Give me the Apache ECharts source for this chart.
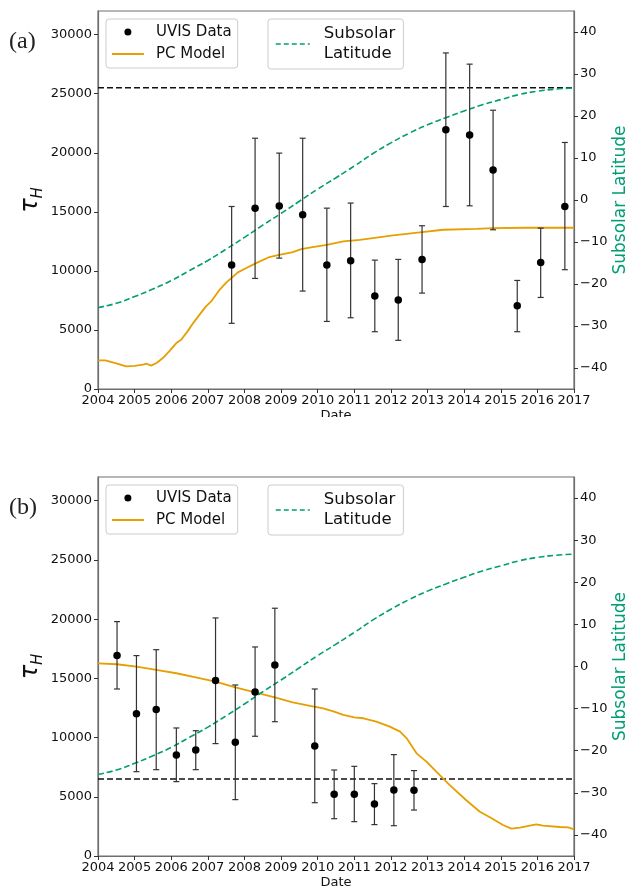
<!DOCTYPE html>
<html>
<head>
<meta charset="utf-8">
<script src="https://cdn.jsdelivr.net/npm/echarts@6/dist/echarts.min.js"></script>
<style>
html,body{margin:0;padding:0;background:#fff;}
#c{width:629px;height:890px;}
</style>
</head>
<body>
<div id="c"></div>
<script>
// ---------- data ----------
const xTicks = [2004,2005,2006,2007,2008,2009,2010,2011,2012,2013,2014,2015,2016,2017];
const tauTicks = [0,5000,10000,15000,20000,25000,30000];
const latTicks = [-40,-30,-20,-10,0,10,20,30,40];

// Panel (a)
const uvisA_date = [2007.65, 2008.29, 2008.95, 2009.59, 2010.25, 2010.90, 2011.56, 2012.20, 2012.85, 2013.50, 2014.15, 2014.79, 2015.45, 2016.09, 2016.75];
const uvisA_tau  = [10500, 15300, 15500, 14750, 10500, 10850, 7870, 7530, 10970, 21950, 21500, 18530, 7050, 10700, 15450];
const uvisA_lo   = [5560, 9360, 11080, 8290, 5720, 6030, 4850, 4120, 8120, 15450, 15510, 13480, 4850, 7750, 10100];
const uvisA_hi   = [15450, 21230, 19970, 21230, 15310, 15740, 10910, 10970, 13820, 28450, 27500, 23600, 9190, 13620, 20870];
const pcA_date = [2004.0, 2004.2, 2004.5, 2004.77, 2005.0, 2005.23, 2005.33, 2005.45, 2005.6, 2005.77, 2005.95, 2006.14, 2006.27, 2006.45, 2006.6, 2006.8, 2006.95, 2007.09, 2007.32, 2007.5, 2007.64, 2007.82, 2008.05, 2008.32, 2008.68, 2008.95, 2009.32, 2009.55, 2009.86, 2010.25, 2010.7, 2011.15, 2012.06, 2012.85, 2013.43, 2014.34, 2014.8, 2015.7, 2017.0];
const pcA_tau  = [2425, 2420, 2170, 1920, 1960, 2060, 2140, 1980, 2200, 2620, 3200, 3890, 4170, 4900, 5580, 6400, 6990, 7410, 8400, 9000, 9390, 9870, 10240, 10660, 11170, 11360, 11590, 11840, 12010, 12210, 12490, 12630, 13000, 13280, 13480, 13560, 13620, 13650, 13650];
const refA = 25500;

// Panel (b)
const uvisB_date = [2004.52, 2005.05, 2005.59, 2006.14, 2006.67, 2007.21, 2007.75, 2008.29, 2008.83, 2009.92, 2010.45, 2011.00, 2011.55, 2012.08, 2012.63];
const uvisB_tau  = [16920, 12020, 12360, 8530, 8950, 14810, 9600, 13850, 16130, 9290, 5210, 5210, 4390, 5570, 5550];
const uvisB_lo   = [14100, 7120, 7290, 6280, 7290, 9490, 4760, 10110, 11340, 4500, 3150, 2900, 2650, 2560, 3880];
const uvisB_hi   = [19790, 16920, 17420, 10810, 10580, 20100, 14440, 17650, 20920, 14100, 7260, 7570, 6110, 8560, 7210];
const pcB_date = [2004.0, 2004.52, 2005.05, 2005.59, 2006.14, 2006.67, 2007.21, 2007.75, 2008.29, 2008.83, 2009.32, 2009.79, 2010.15, 2010.45, 2010.7, 2011.0, 2011.25, 2011.6, 2011.97, 2012.25, 2012.43, 2012.7, 2012.97, 2013.24, 2013.6, 2014.05, 2014.43, 2014.75, 2015.06, 2015.29, 2015.52, 2015.97, 2016.15, 2016.61, 2016.84, 2017.0];
const pcB_tau  = [16270, 16190, 15990, 15710, 15430, 15090, 14720, 14240, 13820, 13400, 12980, 12670, 12470, 12190, 11910, 11710, 11630, 11340, 10920, 10500, 9940, 8670, 7970, 7120, 6000, 4730, 3740, 3180, 2620, 2310, 2390, 2670, 2560, 2450, 2420, 2250];
const refB = 6500;

// Subsolar latitude (both panels)
const lat_date = [2004.0, 2004.5, 2005.0, 2005.5, 2006.0, 2006.5, 2007.0, 2007.5, 2008.0, 2008.5, 2009.0, 2009.5, 2010.0, 2010.5, 2011.0, 2011.5, 2012.0, 2012.5, 2013.0, 2013.5, 2014.0, 2014.5, 2015.0, 2015.5, 2016.0, 2016.5, 2017.0];
const lat_val  = [-25.6, -24.6, -23.0, -21.2, -19.2, -16.8, -14.4, -11.7, -8.9, -6.0, -3.2, -0.3, 2.6, 5.3, 8.1, 11.0, 13.6, 15.9, 17.9, 19.6, 21.2, 22.7, 23.9, 25.1, 25.9, 26.4, 26.7];

// ---------- styles ----------
const FONT = 'DejaVu Sans';
const SPINE = '#6e6e6e';
const ORANGE = '#E69F00';
const GREEN = '#009E73';
const XMIN = 2004, XMAX = 2017;

const zip = (a, b) => a.map((v, i) => [v, b[i]]);
const zip3 = (a, b, c) => a.map((v, i) => [v, b[i], c[i]]);

function renderErr(params, api) {
  const x = api.value(0), lo = api.value(1), hi = api.value(2);
  const pLo = api.coord([x, lo]), pHi = api.coord([x, hi]);
  const cap = 3;
  const style = { stroke: '#333', lineWidth: 1.2 };
  return { type: 'group', children: [
    { type: 'line', shape: { x1: pLo[0], y1: pLo[1], x2: pHi[0], y2: pHi[1] }, style: style },
    { type: 'line', shape: { x1: pLo[0] - cap, y1: pLo[1], x2: pLo[0] + cap, y2: pLo[1] }, style: style },
    { type: 'line', shape: { x1: pHi[0] - cap, y1: pHi[1], x2: pHi[0] + cap, y2: pHi[1] }, style: style }
  ]};
}

const grids = [
  { left: 98, top: 11, width: 476, height: 378 },
  { left: 98, top: 477, width: 476, height: 379 }
];

function xAx(g) {
  return {
    type: 'value', gridIndex: g, min: XMIN, max: XMAX, interval: 1,
    name: 'Date', nameLocation: 'middle', nameGap: 20, nameMoveOverlap: false,
    nameTextStyle: { fontFamily: FONT, fontSize: 13, color: '#111' },
    axisLine: { show: true, lineStyle: { color: SPINE, width: 1.2 } },
    axisTick: { show: true, inside: false, length: 4, lineStyle: { color: '#333' } },
    axisLabel: { fontFamily: FONT, fontSize: 13, color: '#111', margin: 5, formatter: v => String(v) },
    splitLine: { show: false }
  };
}
function yLeft(g) {
  return {
    type: 'value', gridIndex: g, position: 'left', min: 0, max: 32000, interval: 5000,
    name: '{t|τ}{h|H}', nameLocation: 'middle', nameGap: 52, nameMoveOverlap: false,
    nameTextStyle: { rich: {
      t: { fontFamily: FONT, fontSize: 24, fontStyle: 'italic', color: '#111', lineHeight: 30, verticalAlign: 'middle' },
      h: { fontFamily: FONT, fontSize: 15, fontStyle: 'italic', color: '#111', lineHeight: 14, verticalAlign: 'bottom' }
    }},
    axisLine: { show: true, onZero: false, lineStyle: { color: SPINE, width: 1.2 } },
    axisTick: { show: true, length: 4, lineStyle: { color: '#333' }, customValues: tauTicks },
    axisLabel: { fontFamily: FONT, fontSize: 13, color: '#111', margin: 6, formatter: v => String(v), customValues: tauTicks },
    splitLine: { show: false }
  };
}
function yRight(g) {
  return {
    type: 'value', gridIndex: g, position: 'right', min: -45, max: 45,
    name: 'Subsolar Latitude', nameLocation: 'middle', nameGap: 38, nameMoveOverlap: false,
    nameTextStyle: { fontFamily: FONT, fontSize: 17, color: GREEN },
    axisLine: { show: true, onZero: false, lineStyle: { color: SPINE, width: 1.2 } },
    axisTick: { show: true, length: 4, lineStyle: { color: '#333' }, customValues: latTicks },
    axisLabel: { fontFamily: FONT, fontSize: 13, color: '#111', margin: 6,
      formatter: v => String(v).replace('-', '\u2212'), customValues: latTicks },
    splitLine: { show: false }
  };
}

function panelSeries(p, uDate, uTau, uLo, uHi, pcDate, pcTau, ref) {
  const xi = p, yi = p * 2, yr = p * 2 + 1;
  return [
    { type: 'line', name: 'ref' + p, xAxisIndex: xi, yAxisIndex: yi, data: [[XMIN, ref], [XMAX, ref]],
      symbol: 'none', lineStyle: { color: '#111', width: 1.6, type: [6, 3] }, silent: true, z: 2 },
    { type: 'line', name: 'PC Model', xAxisIndex: xi, yAxisIndex: yi, data: zip(pcDate, pcTau),
      symbol: 'none', showSymbol: false, lineStyle: { color: ORANGE, width: 1.8 }, itemStyle: { color: ORANGE }, z: 3 },
    { type: 'line', name: 'Subsolar\nLatitude', xAxisIndex: xi, yAxisIndex: yr, data: zip(lat_date, lat_val),
      symbol: 'none', showSymbol: false, smooth: true, lineStyle: { color: GREEN, width: 1.6, type: [6, 3] }, itemStyle: { color: GREEN }, z: 3 },
    { type: 'custom', name: 'err' + p, xAxisIndex: xi, yAxisIndex: yi, data: zip3(uDate, uLo, uHi),
      renderItem: renderErr, encode: { x: 0, y: [1, 2] }, z: 4, silent: true },
    { type: 'scatter', name: 'UVIS Data', xAxisIndex: xi, yAxisIndex: yi, data: zip(uDate, uTau),
      symbol: 'circle', symbolSize: 7.5, itemStyle: { color: '#000', opacity: 1 }, z: 5 }
  ];
}

function legends(top) {
  const base = {
    backgroundColor: 'rgba(255,255,255,0.8)', borderColor: '#cccccc', borderWidth: 1, borderRadius: 3,
    orient: 'vertical', selectedMode: false
  };
  return [
    Object.assign({}, base, {
      left: 106, top: top, itemWidth: 32, itemHeight: 7, itemGap: 0, padding: [2, 6, 3, 5],
      textStyle: { fontFamily: FONT, fontSize: 15, color: '#111', lineHeight: 22, padding: [0, 0, 0, 7] },
      data: [
        { name: 'UVIS Data', icon: 'circle', itemStyle: { color: '#000' } },
        { name: 'PC Model', itemStyle: { opacity: 0 }, lineStyle: { color: ORANGE, width: 1.8 } }
      ]
    }),
    Object.assign({}, base, {
      left: 268, top: top, itemWidth: 34, itemHeight: 7, itemGap: 0, padding: [5, 8, 5, 7],
      textStyle: { fontFamily: FONT, fontSize: 16.5, color: '#111', lineHeight: 20, padding: [0, 0, 0, 9] },
      data: [
        { name: 'Subsolar\nLatitude', itemStyle: { opacity: 0 }, lineStyle: { color: GREEN, width: 1.6, type: [5, 3] } }
      ]
    })
  ];
}

const chart = echarts.init(document.getElementById('c'), null, { renderer: 'canvas' });
chart.setOption({
  backgroundColor: '#fff',
  animation: false,
  grid: grids.map(g => Object.assign({ show: true, borderColor: SPINE, borderWidth: 1.2, backgroundColor: 'transparent', containLabel: false, outerBoundsMode: 'none' }, g)),
  xAxis: [xAx(0), xAx(1)],
  yAxis: [yLeft(0), yRight(0), yLeft(1), yRight(1)],
  legend: legends(19).concat(legends(485)),
  series: panelSeries(0, uvisA_date, uvisA_tau, uvisA_lo, uvisA_hi, pcA_date, pcA_tau, refA)
    .concat(panelSeries(1, uvisB_date, uvisB_tau, uvisB_lo, uvisB_hi, pcB_date, pcB_tau, refB)),
  graphic: [
    { type: 'rect', shape: { x: 0, y: 417, width: 629, height: 56 }, style: { fill: '#fff' }, z: 100, silent: true },
    { type: 'text', left: 9, top: 30, style: { text: '(a)', font: '24px "Liberation Serif"', fill: '#222' }, z: 101 },
    { type: 'text', left: 9, top: 496, style: { text: '(b)', font: '24px "Liberation Serif"', fill: '#222' }, z: 101 }
  ]
});
</script>
</body>
</html>
